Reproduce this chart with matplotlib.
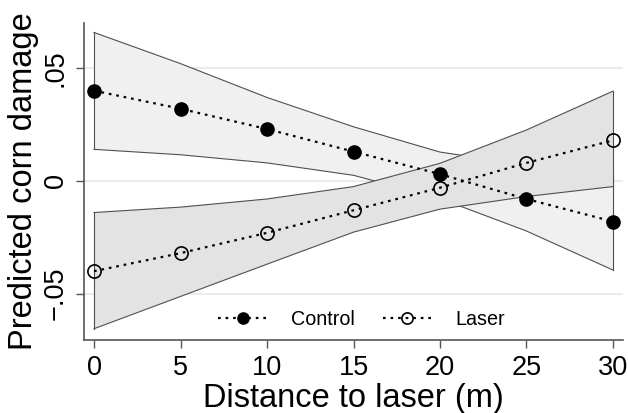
import matplotlib
matplotlib.use("Agg")
import matplotlib.pyplot as plt

plt.rcParams['font.family'] = ['Liberation Sans', 'DejaVu Sans']

# distance to laser (m)
distance = [0, 5, 10, 15, 20, 25, 30]

# predicted corn damage and 95% CI
control_mean = [0.040, 0.032, 0.023, 0.013, 0.003, -0.008, -0.018]
control_lo = [0.014, 0.0116, 0.008, 0.0025, -0.0078, -0.0222, -0.0395]
control_hi = [0.0658, 0.052, 0.037, 0.024, 0.0128, 0.007, 0.003]

laser_mean = [-0.040, -0.032, -0.023, -0.013, -0.003, 0.008, 0.018]
laser_lo = [-0.0655, -0.0512, -0.0369, -0.0227, -0.0125, -0.0069, -0.0025]
laser_hi = [-0.014, -0.0116, -0.008, -0.0025, 0.0078, 0.0226, 0.0398]

yticks = [-0.05, 0, 0.05]
ytick_labels = ['\u2212.05', '0', '.05']
xticks = [0, 5, 10, 15, 20, 25, 30]

fig = plt.figure(figsize=(6.28, 4.13), dpi=100)
ax = fig.add_axes([84 / 628, 1 - 340 / 413, (623 - 84) / 628, (340 - 23) / 413])

edge = '#505050'
for y in yticks:
    ax.axhline(y, color='#e8e8e8', lw=1.2, zorder=0)

# control band (drawn first, laser band sits over it)
ax.fill_between(distance, control_lo, control_hi, facecolor='#f0f0f0',
                edgecolor='none', zorder=1)
ax.plot(distance, control_lo, color=edge, lw=0.8, zorder=1.1)
ax.plot(distance, control_hi, color=edge, lw=0.8, zorder=1.1)
ax.plot([0, 0], [control_lo[0], control_hi[0]], color=edge, lw=0.8, zorder=1.1)
ax.plot([30, 30], [control_lo[-1], control_hi[-1]], color=edge, lw=0.8, zorder=1.1)

ax.fill_between(distance, laser_lo, laser_hi, facecolor='#e3e3e3',
                edgecolor='none', zorder=2)
ax.plot(distance, laser_lo, color=edge, lw=0.8, zorder=2.1)
ax.plot(distance, laser_hi, color=edge, lw=0.8, zorder=2.1)
ax.plot([0, 0], [laser_lo[0], laser_hi[0]], color=edge, lw=0.8, zorder=2.1)
ax.plot([30, 30], [laser_lo[-1], laser_hi[-1]], color=edge, lw=0.8, zorder=2.1)

ax.plot(distance, control_mean, linestyle=(0, (1.2, 2.2)), color='black', lw=1.6,
        marker='o', markersize=9.5, markerfacecolor='black', markeredgecolor='black',
        label='Control', zorder=3)
ax.plot(distance, laser_mean, linestyle=(0, (1.2, 2.2)), color='black', lw=1.6,
        marker='o', markersize=9.5, markerfacecolor='none', markeredgecolor='black',
        markeredgewidth=1.2, label='Laser', zorder=3)

ax.set_xlim(-0.58, 30.58)
ax.set_ylim(-0.0705, 0.070)
ax.set_xticks(xticks)
ax.set_yticks(yticks)
ax.set_yticklabels(ytick_labels, rotation=90, va='center')
ax.tick_params(axis='both', labelsize=19.5, length=6, color='#555555', width=1)
ax.tick_params(axis='x', pad=5)
ax.tick_params(axis='y', pad=5)

for side in ['top', 'right']:
    ax.spines[side].set_visible(False)
for side in ['left', 'bottom']:
    ax.spines[side].set_color('#555555')
    ax.spines[side].set_linewidth(1.2)

ax.set_xlabel('Distance to laser (m)', fontsize=23.5, labelpad=1)
ax.set_ylabel('Predicted corn damage', fontsize=23.5, labelpad=3)

ax.legend(loc='lower center', ncol=2, frameon=False, fontsize=14.2,
          handlelength=2.5, columnspacing=1.4, handletextpad=1.2,
          bbox_to_anchor=(0.515, -0.02), markerscale=0.85)

fig.savefig('out.png', dpi=100)
